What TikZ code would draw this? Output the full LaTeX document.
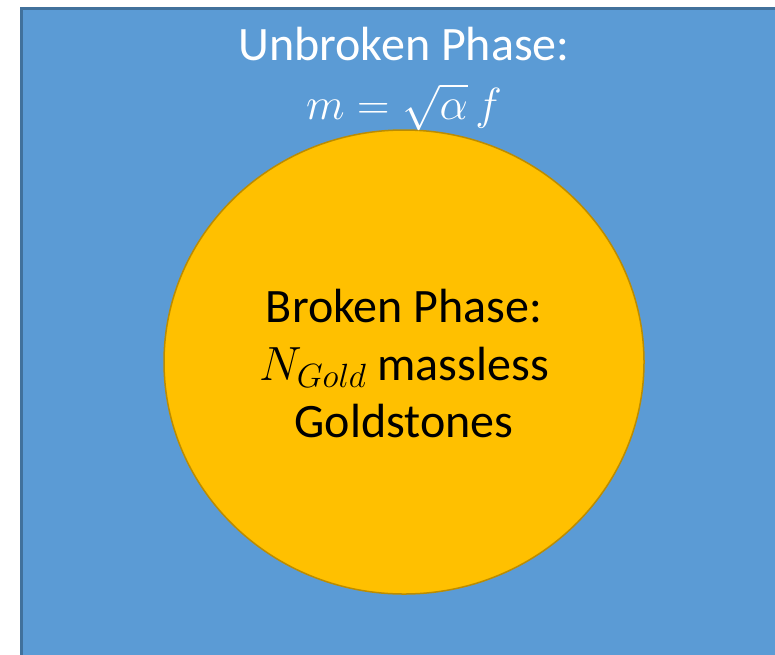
\documentclass[tikz,border=0pt]{standalone}
\usepackage{fix-cm}
\usepackage{amsmath}
\usepackage{fontspec}
\setmainfont{Carlito}
\usepackage{xcolor}
\usetikzlibrary{positioning}

\definecolor{phaseblue}{HTML}{5B9BD5}
\definecolor{phaseblueline}{HTML}{41719C}
\definecolor{phasegold}{HTML}{FFC000}
\definecolor{phasegoldline}{HTML}{BC8C00}

\begin{document}
\begin{tikzpicture}[x=1pt, y=-1pt,
    phasetext/.style={align=center, font=\fontsize{48}{57}\selectfont, inner sep=0pt}]
    \useasboundingbox[fill=white] (0,0) rectangle (775,654);
    \begin{scope}
        \clip (0,0) rectangle (775,654);
        \draw[fill=phaseblue, draw=phaseblueline, line width=3pt] (21,8) rectangle (800,680);
    \end{scope}
    \draw[fill=phasegold, draw=phasegoldline, line width=1.5pt] (404,362) ellipse [x radius=240, y radius=232];

    \node[phasetext, text=white, anchor=base] (unbroken) at (404,60) {Unbroken Phase:};
    \node[phasetext, text=white, anchor=base, font=\fontsize{45}{54}\selectfont] (mass) at (404,119) {$m=\sqrt{\alpha}\,f$};

    \node[phasetext, anchor=base] (broken) at (404,322) {Broken Phase:};
    \node[phasetext, anchor=base] (ngold) at (404,380) {$N_{Gold}$ massless};
    \node[phasetext, anchor=base] (goldstones) at (404,437) {Goldstones};
\end{tikzpicture}
\end{document}
